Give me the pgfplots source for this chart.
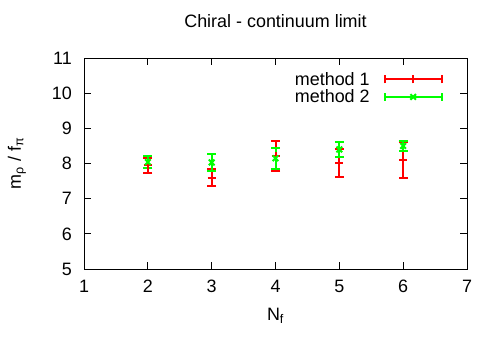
\documentclass[border=0pt]{standalone}
\usepackage{fontspec}
\setmainfont{Liberation Sans}
\usepackage{pgfplots}
\pgfplotsset{compat=1.18}
\begin{document}
\begin{tikzpicture}
\begin{axis}[
  scale only axis, width=383bp, height=211bp,
  xmin=1, xmax=7, ymin=5, ymax=11,
  xtick={1,...,7}, ytick={5,...,11},
  tick align=inside, tick style={black, line width=1bp}, major tick length=7bp,
  axis line style={line width=1bp},
  /pgf/number format/assume math mode=true,
  tick label style={font=\fontsize{18}{20}\selectfont, inner sep=0pt},
  xticklabel style={anchor=north, yshift=-11bp},
  yticklabel style={anchor=east, xshift=-12bp},
  xlabel={N\textsubscript{f}}, ylabel={m\textsubscript{ρ} / f\textsubscript{π}},
  xlabel style={font=\fontsize{18}{20}\selectfont, inner sep=0pt, at={(axis description cs:0.5,-0.242)}, anchor=base},
  ylabel style={font=\fontsize{18}{20}\selectfont, inner sep=0pt, at={(axis description cs:-0.175,0.5)}, anchor=center},
  title={Chiral - continuum limit},
  title style={font=\fontsize{18}{20}\selectfont, inner sep=0pt, at={(axis description cs:0.5,1.118)}, anchor=base},
  legend style={draw=none, fill=none, at={(0.937,0.943)}, anchor=north east,
    font=\fontsize{18}{20}\selectfont, row sep=-1bp, inner sep=0pt},
  legend plot pos=right,
  legend cell align=right,
]
\addplot[color=red, line width=2bp, only marks, mark=+, mark size=4bp,
  legend image code/.code={
  \draw[color=red, line width=2bp] (0bp,0bp) -- (57bp,0bp);
  \draw[color=red, line width=2bp] (0bp,-4bp) -- (0bp,4bp);
  \draw[color=red, line width=2bp] (57bp,-4bp) -- (57bp,4bp);
  \draw[color=red, line width=2bp] (28.5bp,-4bp) -- (28.5bp,4bp);
  },
  error bars/.cd, y dir=both, y explicit,
  error bar style={color=red, line width=2bp},
  error mark options={color=red, rotate=90, mark size=4.5bp, line width=2bp},
  ]
  coordinates {
  (2,7.95) +- (0,0.21)
  (3,7.6) +- (0,0.25)
  (4,8.22) +- (0,0.42)
  (5,8.02) +- (0,0.4)
  (6,8.1) +- (0,0.5)
  };
\addlegendentry{method 1\rule{12bp}{0pt}}
\addplot[color=green, line width=2bp, only marks, mark=x, mark size=4bp,
  legend image code/.code={
  \draw[color=green, line width=2bp] (0bp,0bp) -- (57bp,0bp);
  \draw[color=green, line width=2bp] (0bp,-4bp) -- (0bp,4bp);
  \draw[color=green, line width=2bp] (57bp,-4bp) -- (57bp,4bp);
  \draw[color=green, line width=2bp] (25.7bp,-2.8bp) -- (31.3bp,2.8bp);
  \draw[color=green, line width=2bp] (25.7bp,2.8bp) -- (31.3bp,-2.8bp);
  },
  error bars/.cd, y dir=both, y explicit,
  error bar style={color=green, line width=2bp},
  error mark options={color=green, rotate=90, mark size=4.5bp, line width=2bp},
  ]
  coordinates {
  (2,8.04) +- (0,0.17)
  (3,8.03) +- (0,0.25)
  (4,8.15) +- (0,0.3)
  (5,8.4) +- (0,0.21)
  (6,8.5) +- (0,0.15)
  };
\addlegendentry{method 2\rule{12bp}{0pt}}
\end{axis}
\path ([shift={(-84bp,-81bp)}]current axis.south west) rectangle ([shift={(33bp,58bp)}]current axis.north east);
\end{tikzpicture}
\end{document}
